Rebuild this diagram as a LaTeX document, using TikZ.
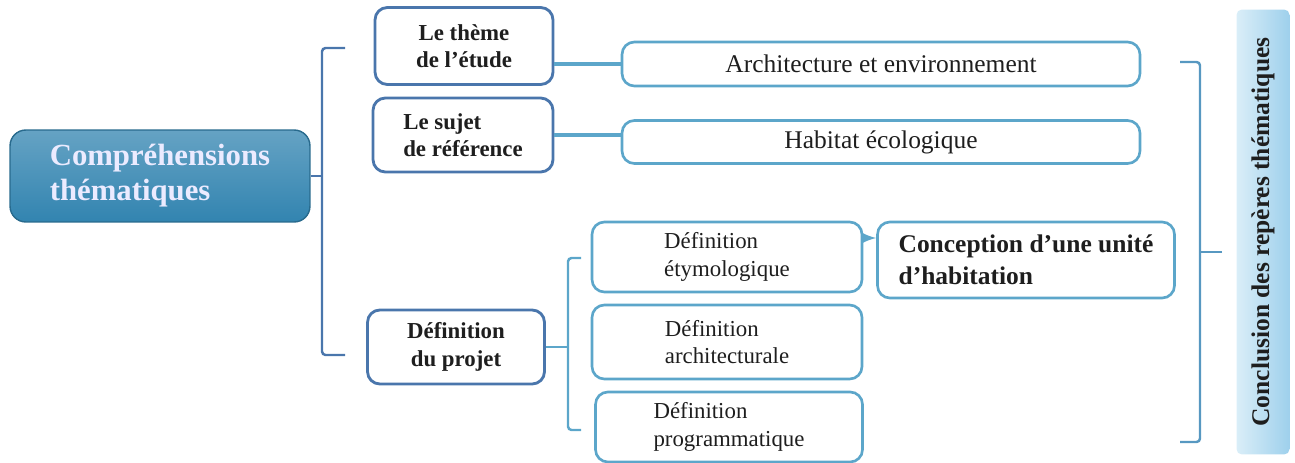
\documentclass[tikz,border=0pt]{standalone}
\usepackage{fontspec}
\setmainfont{Liberation Serif}
\usepackage{tikz}
\usetikzlibrary{shapes,arrows,positioning,calc}
\definecolor{darkblue}{RGB}{74,118,172}
\definecolor{lightblue}{RGB}{92,166,202}
\definecolor{mainblue}{RGB}{50,132,176}
\definecolor{inkgray}{RGB}{30,30,30}
\definecolor{barleft}{RGB}{218,238,248}
\definecolor{barright}{RGB}{158,208,236}
\tikzset{rect/.style={
    draw,
    rectangle,
    rounded corners=7pt,
    thick,
    align=center,
    text=inkgray,
    fill=white,
    inner sep=2pt,
  }}
\tikzset{leftrect/.style={rect, draw=darkblue, line width=1.6pt, font=\fontsize{13}{15.5}\selectfont\bfseries}}
\tikzset{rightrect/.style={rect, draw=lightblue, line width=1.5pt, font=\fontsize{13}{15.5}\selectfont}}
\tikzset{brack/.style={line width=1.4pt, rounded corners=2pt}}

\begin{document}
\begin{tikzpicture}[x=0.02cm, y=-0.02cm, auto]
        \useasboundingbox (0,0) rectangle (1295,463);

        \node (main) [rect, draw=mainblue!80!black, line width=0.8pt, rounded corners=9pt,
        top color=mainblue!75!white, bottom color=mainblue, text=white!92!blue,
        minimum width=6cm, minimum height=1.84cm,
        font=\fontsize{17.5}{20}\selectfont\bfseries, align=left] at (160,176)
        {Compréhensions\\thématiques};

        \node (theme) [leftrect, minimum width=3.56cm, minimum height=1.54cm] at (464,46) {Le thème\\de l’étude};
        \node (sujet) [leftrect, minimum width=3.6cm, minimum height=1.48cm, align=left] at (463,135) {Le sujet\\de référence};
        \node (projet) [leftrect, minimum width=3.54cm, minimum height=1.48cm] at (456,347) {Définition\\du projet};

        \node (arch) [rightrect, minimum width=10.36cm, minimum height=0.88cm, font=\fontsize{14.5}{17}\selectfont] at (881,64) {Architecture et environnement};
        \node (habitat) [rightrect, minimum width=10.36cm, minimum height=0.86cm, font=\fontsize{14.5}{17}\selectfont] at (881,142) {Habitat écologique};

        \node (etym) [rightrect, minimum width=5.4cm, minimum height=1.4cm, align=left] at (727,257) {Définition\\étymologique};
        \node (archi) [rightrect, minimum width=5.4cm, minimum height=1.48cm, align=left] at (727,342) {Définition\\architecturale};
        \node (prog) [rightrect, minimum width=5.34cm, minimum height=1.4cm, align=left] at (729,427) {Définition\\programmatique};

        \node (concep) [rightrect, minimum width=5.94cm, minimum height=1.52cm, align=left,
        font=\fontsize{14.5}{18.5}\selectfont\bfseries] at (1026,260) {Conception d’une unité\\d’habitation};

        \node (concl) [rounded corners=3pt, left color=barleft, right color=barright,
        minimum width=8.9cm, minimum height=1.06cm, inner sep=0pt, rotate=90, text=inkgray,
        font=\fontsize{14.5}{17}\selectfont\bfseries] at (1263,232) {Conclusion des repères thématiques};

        % accolades
        \coordinate (lbtop) at (345,48);
        \coordinate (lbbot) at (345,355);
        \draw [brack, draw=darkblue] (lbtop) -- (322,48) -- (322,355) -- (lbbot);
        \draw [brack, draw=darkblue] (main.east) -- (main.east -| 322,0);

        \coordinate (mbtop) at (581,258);
        \coordinate (mbbot) at (581,430);
        \draw [brack, draw=lightblue] (mbtop) -- (568,258) -- (568,430) -- (mbbot);
        \draw [brack, draw=lightblue] (projet.east) -- (projet.east -| 568,0);

        \coordinate (rbtop) at (1180,62);
        \coordinate (rbbot) at (1180,442);
        \coordinate (rbtip) at (1222,252);
        \draw [brack, draw=lightblue!70!darkblue] (rbtop) -- (1200,62) -- (1200,442) -- (rbbot);
        \draw [brack, draw=lightblue!70!darkblue] (rbtip) -- (rbtip -| 1200,0);

        \draw [line width=2pt, draw=lightblue] (theme.east |- arch.west) -- (arch.west);
        \draw [line width=2pt, draw=lightblue] (sujet.east) -- (sujet.east -| habitat.west);
        \coordinate (arrowy) at (0,238);
        \draw [line width=1.8pt, draw=lightblue, -latex] (etym.east |- arrowy) -- (concep.west |- arrowy);
      \end{tikzpicture}
\end{document}
